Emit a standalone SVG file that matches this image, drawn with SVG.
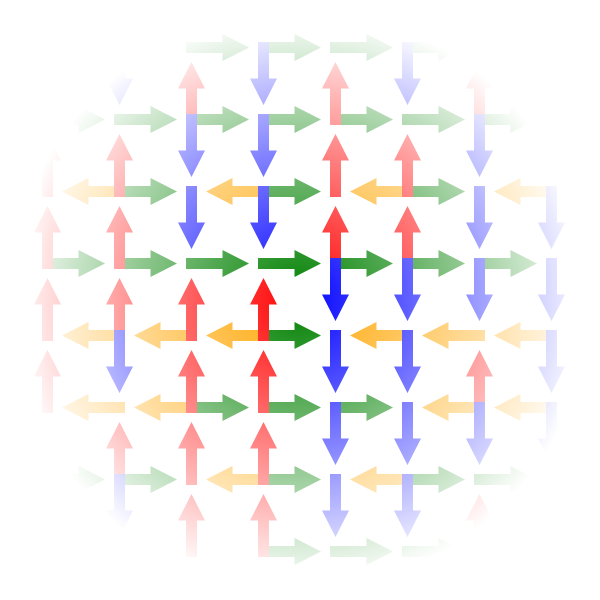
<svg xmlns="http://www.w3.org/2000/svg" width="600" height="600" viewBox="0 0 600 600">
<style>
.l{fill:#ffa500}.r{fill:#008000}.u{fill:#ff0000}.d{fill:#0000ff}
</style>
<defs>
<radialGradient id="rg" gradientUnits="userSpaceOnUse" cx="300" cy="300" r="290">
<stop offset="0" stop-color="#fff" stop-opacity="1"/>
<stop offset="1" stop-color="#fff" stop-opacity="0"/>
</radialGradient>
<mask id="m" maskUnits="userSpaceOnUse" x="0" y="0" width="600" height="600">
<rect width="600" height="600" fill="url(#rg)"/>
</mask>
<path id="R" class="r" d="M-5.5,-5.5H31V-13.5L57.5,0L31,13.5V5.5H-5.5Z"/>
<path id="L" class="l" d="M5.5,-5.5H-31V-13.5L-57.5,0L-31,13.5V5.5H5.5Z"/>
<path id="U" class="u" d="M-5.5,5.5V-31H-13.5L0,-57.5L13.5,-31H5.5V5.5Z"/>
<path id="D" class="d" d="M-5.5,-5.5V31H-13.5L0,57.5L13.5,31H5.5V-5.5Z"/>
</defs>
<rect width="600" height="600" fill="#fff"/>
<g mask="url(#m)">
<g id="n10" transform="translate(119.5,47.5)"><use href="#D"/></g>
<g id="n20" transform="translate(191.5,47.5)"><use href="#R"/></g>
<g id="n30" transform="translate(263.5,47.5)"><use href="#R"/><use href="#D"/></g>
<g id="n40" transform="translate(335.5,47.5)"><use href="#R"/></g>
<g id="n50" transform="translate(407.5,47.5)"><use href="#R"/><use href="#D"/></g>

<g id="n01" transform="translate(47.5,119.5)"><use href="#R"/></g>
<g id="n11" transform="translate(119.5,119.5)"><use href="#R"/></g>
<g id="n21" transform="translate(191.5,119.5)"><use href="#R"/><use href="#U"/><use href="#D"/></g>
<g id="n31" transform="translate(263.5,119.5)"><use href="#R"/><use href="#D"/></g>
<g id="n41" transform="translate(335.5,119.5)"><use href="#R"/><use href="#U"/></g>
<g id="n51" transform="translate(407.5,119.5)"><use href="#R"/></g>
<g id="n61" transform="translate(479.5,119.5)"><use href="#R"/><use href="#U"/><use href="#D"/></g>

<g id="n02" transform="translate(47.5,191.5)"><use href="#U"/></g>
<g id="n12" transform="translate(119.5,191.5)"><use href="#L"/><use href="#R"/><use href="#U"/></g>
<g id="n22" transform="translate(191.5,191.5)"><use href="#D"/></g>
<g id="n32" transform="translate(263.5,191.5)"><use href="#L"/><use href="#R"/><use href="#D"/></g>
<g id="n42" transform="translate(335.5,191.5)"><use href="#U"/></g>
<g id="n52" transform="translate(407.5,191.5)"><use href="#L"/><use href="#R"/><use href="#U"/></g>
<g id="n62" transform="translate(479.5,191.5)"><use href="#D"/></g>
<g id="n72" transform="translate(551.5,191.5)"><use href="#L"/><use href="#D"/></g>

<g id="n03" transform="translate(47.5,263.5)"><use href="#R"/><use href="#U"/></g>
<g id="n13" transform="translate(119.5,263.5)"><use href="#R"/><use href="#U"/></g>
<g id="n23" transform="translate(191.5,263.5)"><use href="#R"/></g>
<g id="n33" transform="translate(263.5,263.5)"><use href="#R"/></g>
<g id="n43" transform="translate(335.5,263.5)"><use href="#R"/><use href="#U"/><use href="#D"/></g>
<g id="n53" transform="translate(407.5,263.5)"><use href="#R"/><use href="#U"/><use href="#D"/></g>
<g id="n63" transform="translate(479.5,263.5)"><use href="#R"/><use href="#D"/></g>
<g id="n73" transform="translate(551.5,263.5)"><use href="#D"/></g>

<g id="n04" transform="translate(47.5,335.5)"><use href="#U"/></g>
<g id="n14" transform="translate(119.5,335.5)"><use href="#L"/><use href="#U"/><use href="#D"/></g>
<g id="n24" transform="translate(191.5,335.5)"><use href="#L"/><use href="#U"/></g>
<g id="n34" transform="translate(263.5,335.5)"><use href="#L"/><use href="#R"/><use href="#U"/></g>
<g id="n44" transform="translate(335.5,335.5)"><use href="#D"/></g>
<g id="n54" transform="translate(407.5,335.5)"><use href="#L"/><use href="#D"/></g>
<g id="n64" transform="translate(479.5,335.5)"><use href="#L"/></g>
<g id="n74" transform="translate(551.5,335.5)"><use href="#L"/><use href="#D"/></g>

<g id="n05" transform="translate(47.5,407.5)"><use href="#U"/></g>
<g id="n15" transform="translate(119.5,407.5)"><use href="#L"/></g>
<g id="n25" transform="translate(191.5,407.5)"><use href="#L"/><use href="#R"/><use href="#U"/></g>
<g id="n35" transform="translate(263.5,407.5)"><use href="#R"/><use href="#U"/></g>
<g id="n45" transform="translate(335.5,407.5)"><use href="#R"/><use href="#D"/></g>
<g id="n55" transform="translate(407.5,407.5)"><use href="#D"/></g>
<g id="n65" transform="translate(479.5,407.5)"><use href="#L"/><use href="#U"/><use href="#D"/></g>
<g id="n75" transform="translate(551.5,407.5)"><use href="#L"/><use href="#D"/></g>

<g id="n06" transform="translate(47.5,479.5)"><use href="#R"/></g>
<g id="n16" transform="translate(119.5,479.5)"><use href="#R"/><use href="#U"/><use href="#D"/></g>
<g id="n26" transform="translate(191.5,479.5)"><use href="#U"/></g>
<g id="n36" transform="translate(263.5,479.5)"><use href="#L"/><use href="#R"/><use href="#U"/></g>
<g id="n46" transform="translate(335.5,479.5)"><use href="#D"/></g>
<g id="n56" transform="translate(407.5,479.5)"><use href="#L"/><use href="#R"/><use href="#D"/></g>
<g id="n66" transform="translate(479.5,479.5)"><use href="#R"/></g>

<g id="n27" transform="translate(191.5,551.5)"><use href="#U"/></g>
<g id="n37" transform="translate(263.5,551.5)"><use href="#R"/><use href="#U"/></g>
<g id="n47" transform="translate(335.5,551.5)"><use href="#R"/></g>
<g id="n57" transform="translate(407.5,551.5)"><use href="#R"/></g>
<g id="n67" transform="translate(479.5,551.5)"><use href="#U"/></g>
</g>
</svg>
